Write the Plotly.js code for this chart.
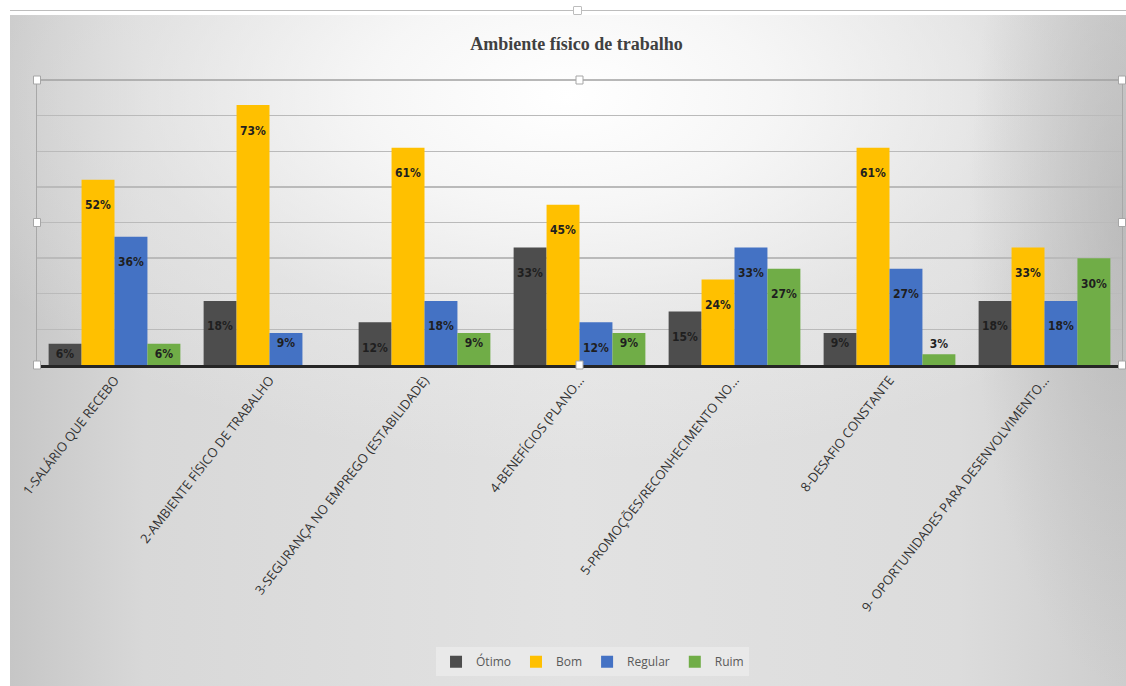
<!DOCTYPE html>
<html>
<head>
<meta charset="utf-8">
<script src="https://cdn.plot.ly/plotly-3.0.1.min.js"></script>
<style>
html,body{margin:0;padding:0;background:#ffffff;width:1126px;height:686px;overflow:hidden;}
#bg{position:absolute;left:10px;top:15px;width:1116px;height:671px;
 background:
  radial-gradient(ellipse 14% 70% at 100% 30%, rgba(170,170,170,0.55) 0%, rgba(180,180,180,0) 100%),
  radial-gradient(ellipse 60% 55% at 50% 12%, rgba(255,255,255,1) 0%, rgba(250,250,250,0.85) 30%, rgba(240,240,240,0.4) 65%, rgba(230,230,230,0) 100%),
  linear-gradient(to right, #c6c6c6 0%, #d8d8d8 12%, #e2e2e2 50%, #dcdcdc 85%, #cdcdcd 100%);}
#topline{position:absolute;left:10px;top:10px;width:1116px;height:1px;background:#bdbdbd;}
#tophandle{position:absolute;left:573px;top:6px;width:7px;height:7px;background:#fff;border:1px solid #bdbdbd;border-radius:1px;}
#chart{position:absolute;left:0;top:0;width:1126px;height:686px;}
</style>
</head>
<body>
<div id="bg"></div>
<div id="topline"></div>
<div id="tophandle"></div>
<div id="chart"></div>
<script>
const categories = [
  "1-SALÁRIO QUE RECEBO",
  "2-AMBIENTE FÍSICO DE TRABALHO",
  "3-SEGURANÇA NO EMPREGO (ESTABILIDADE)",
  "4-BENEFÍCIOS (PLANO…",
  "5-PROMOÇÕES/RECONHECIMENTO NO…",
  "8-DESAFIO CONSTANTE",
  "9- OPORTUNIDADES PARA DESENVOLVIMENTO…"
];
const otimo   = [6, 18, 12, 33, 15, 9, 18];
const bom     = [52, 73, 61, 45, 24, 61, 33];
const regular = [36, 9, 18, 12, 33, 27, 18];
const ruim    = [6, null, 9, 9, 27, 3, 30];

const seriesNames = ["Ótimo", "Bom", "Regular", "Ruim"];
const seriesValues = [otimo, bom, regular, ruim];
const seriesColors = ["#4d4d4d", "#ffc000", "#4472c4", "#70ad47"];

const labelFont = {family: "DejaVu Sans Condensed, DejaVu Sans", size: 12, color: "#1f1f1f", weight: "bold"};

const traces = seriesValues.map((vals, i) => ({
  type: "bar",
  name: seriesNames[i],
  x: categories,
  y: vals,
  marker: {color: seriesColors[i], line: {width: 0}},
  texttemplate: vals.map(v => (v !== null && v >= 12) ? "\u00a0<br>%{y}%" : "%{y}%"),
  textposition: vals.map(v => (v !== null && v < 5) ? "outside" : "inside"),
  insidetextanchor: "end",
  constraintext: "none",
  cliponaxis: false,
  textangle: 0,
  textfont: labelFont,
  insidetextfont: labelFont,
  outsidetextfont: labelFont,
  hoverinfo: "x+y+name"
}));

function handle(xa, ya) {
  return {type: "rect", xref: "paper", yref: "paper",
    xsizemode: "pixel", ysizemode: "pixel", xanchor: xa, yanchor: ya,
    x0: -3.5, x1: 3.5, y0: -4, y1: 4,
    fillcolor: "#ffffff", line: {color: "#a6a6a6", width: 1}, layer: "above"};
}
const shapes = [
  {type: "line", xref: "paper", yref: "paper", x0: 0, x1: 1, y0: 1, y1: 1,
   line: {color: "#a0a0a0", width: 1.5}, layer: "below"}
];
[[0,1],[0.5,1],[1,1],[0,0.5],[1,0.5],[0,0],[0.5,0],[1,0]].forEach(p => shapes.push(handle(p[0], p[1])));

const layout = {
  width: 1126, height: 686,
  margin: {l: 37, r: 4, t: 80, b: 321, pad: 0},
  paper_bgcolor: "rgba(0,0,0,0)",
  plot_bgcolor: "rgba(0,0,0,0)",
  title: {text: "<b>Ambiente físico de trabalho</b>",
    font: {family: "Liberation Serif, DejaVu Serif, serif", size: 18, color: "#404040"},
    x: 0.512, xanchor: "center", y: 0.937, yanchor: "middle"},
  barmode: "group",
  bargap: 0.15,
  bargroupgap: 0,
  showlegend: true,
  legend: {orientation: "h", x: 0.512, xanchor: "center", y: 0.0355, yref: "container", yanchor: "middle",
    font: {family: "Open Sans, Noto Sans, sans-serif", size: 12, color: "#595959"},
    bgcolor: "rgba(236,236,236,0.7)", borderwidth: 0, itemwidth: 30, traceorder: "normal"},
  xaxis: {
    type: "category",
    tickangle: -52,
    tickfont: {family: "Open Sans, Noto Sans, sans-serif", size: 13, color: "#333333"},
    showline: true, linecolor: "#262626", linewidth: 2.5,
    ticks: "", showgrid: false, automargin: false, fixedrange: true
  },
  yaxis: {
    range: [0, 80], dtick: 10, showticklabels: false, ticks: "",
    showgrid: true, gridcolor: "#bababa", gridwidth: 1.3,
    zeroline: false, showline: true, mirror: true, linecolor: "#a8a8a8", linewidth: 1,
    automargin: false, fixedrange: true
  },
  shapes: shapes
};

Plotly.newPlot("chart", traces, layout, {displayModeBar: false, staticPlot: true});
</script>
</body>
</html>
